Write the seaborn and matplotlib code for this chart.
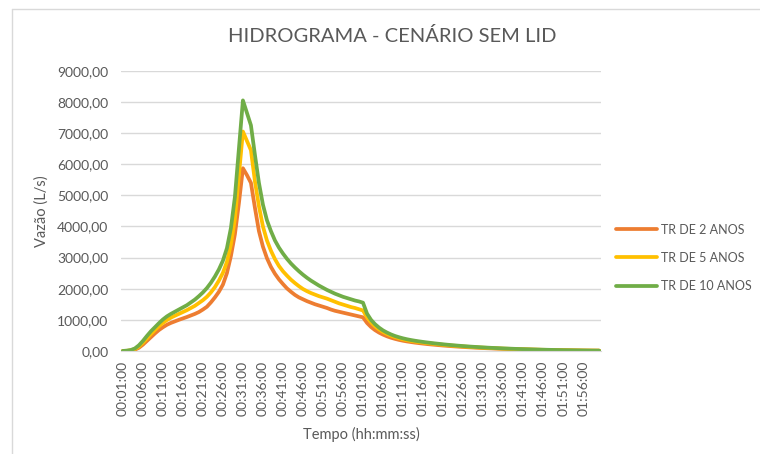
import numpy as np
import pandas as pd
import matplotlib
matplotlib.use("Agg")
import matplotlib.pyplot as plt
import seaborn as sns
from matplotlib.lines import Line2D
from matplotlib.ticker import FuncFormatter

# data - flow (L/s) every minute, 00:01:00 to 02:00:00

tempo = ["%02d:%02d:00" % (m // 60, m % 60) for m in range(1, 121)]

tr_2 = [0, 0, 10, 40, 100, 200, 320, 440, 560, 670,
        760, 840, 900, 950, 1000, 1045, 1090, 1140, 1190, 1250,
        1330, 1420, 1560, 1720, 1900, 2130, 2500, 3050, 3750, 4750,
        5870, 5650, 5400, 4600, 3850, 3350, 2980, 2700, 2480, 2300,
        2150, 2010, 1900, 1800, 1720, 1660, 1600, 1550, 1500, 1460,
        1420, 1380, 1330, 1290, 1260, 1230, 1200, 1170, 1140, 1110,
        1080, 900, 770, 670, 590, 525, 470, 425, 388, 355,
        328, 305, 285, 267, 251, 236, 222, 209, 197, 185,
        174, 164, 154, 145, 136, 128, 120, 113, 106, 99,
        93, 87, 82, 77, 72, 67, 63, 59, 55, 51,
        48, 45, 42, 39, 36, 33, 31, 29, 27, 25,
        23, 21, 19, 17, 15, 13, 12, 11, 10, 9]

tr_5 = [0, 5, 20, 60, 140, 260, 400, 540, 670, 790,
        900, 990, 1070, 1130, 1190, 1250, 1310, 1380, 1450, 1540,
        1630, 1740, 1880, 2050, 2260, 2510, 2860, 3420, 4250, 5650,
        7050, 6750, 6450, 5450, 4650, 4000, 3550, 3220, 2950, 2730,
        2560, 2420, 2290, 2180, 2080, 1990, 1920, 1860, 1810, 1760,
        1720, 1680, 1630, 1580, 1530, 1490, 1450, 1410, 1380, 1340,
        1300, 1080, 920, 790, 690, 610, 545, 490, 445, 405,
        372, 345, 322, 302, 284, 267, 252, 238, 224, 211,
        198, 186, 175, 165, 155, 145, 136, 128, 120, 113,
        106, 99, 93, 87, 81, 76, 71, 66, 62, 58,
        54, 50, 46, 43, 40, 37, 34, 31, 28, 25,
        23, 21, 19, 17, 15, 13, 12, 11, 10, 9]

tr_10 = [0, 10, 30, 80, 180, 320, 480, 630, 760, 890,
         1010, 1110, 1190, 1260, 1330, 1400, 1470, 1560, 1650, 1760,
         1880, 2020, 2190, 2390, 2620, 2900, 3300, 3950, 4950, 6500,
         8050, 7650, 7250, 6300, 5400, 4700, 4200, 3850, 3550, 3320,
         3130, 2960, 2810, 2680, 2560, 2450, 2350, 2260, 2180, 2100,
         2030, 1960, 1900, 1840, 1790, 1740, 1700, 1660, 1620, 1590,
         1550, 1200, 1000, 860, 750, 660, 590, 530, 480, 440,
         405, 375, 350, 328, 308, 290, 273, 257, 242, 228,
         214, 201, 189, 178, 167, 157, 147, 138, 130, 122,
         114, 107, 100, 94, 88, 82, 77, 72, 67, 62,
         58, 54, 50, 46, 43, 40, 37, 34, 31, 28,
         25, 23, 21, 19, 17, 15, 13, 11, 10, 9]

series_names = ["TR DE 2 ANOS", "TR DE 5 ANOS", "TR DE 10 ANOS"]
colors = ["#ED7D31", "#FFC000", "#70AD47"]

df = pd.DataFrame({"tempo": tempo,
                   series_names[0]: tr_2,
                   series_names[1]: tr_5,
                   series_names[2]: tr_10})
df["idx"] = range(len(df))
long_df = df.melt(id_vars=["tempo", "idx"], var_name="serie", value_name="vazao")

sns.set_style("white")
plt.rcParams["font.family"] = ["Lato", "DejaVu Sans"]

fig = plt.figure(figsize=(7.6, 4.54), dpi=100)
ax = fig.add_axes([0.159, 0.227, 0.632, 0.617])

sns.lineplot(data=long_df, x="idx", y="vazao", hue="serie",
             hue_order=series_names, palette=colors, linewidth=2.7,
             ax=ax, legend=False)

ax.set_xlim(-0.5, len(tempo) - 0.5)
ax.set_ylim(0, 9000)
ax.set_yticks(np.arange(0, 9001, 1000))
ax.yaxis.set_major_formatter(FuncFormatter(lambda v, p: ("%.2f" % v).replace(".", ",")))
ax.set_xticks(range(0, len(tempo), 5))
ax.set_xticklabels(tempo[::5], rotation=90)

ax.grid(axis="y", color="#D9D9D9", linewidth=1)
ax.set_axisbelow(True)
for s in ["top", "right", "left"]:
    ax.spines[s].set_visible(False)
ax.spines["bottom"].set_color("#D9D9D9")
ax.tick_params(axis="y", length=0, labelsize=10, labelcolor="#595959", pad=9)
ax.tick_params(axis="x", length=0, labelsize=10, labelcolor="#595959", pad=7)

ax.set_xlabel("Tempo (hh:mm:ss)", fontsize=10.5, color="#595959", labelpad=8)
ax.set_ylabel("Vazão (L/s)", fontsize=10.5, color="#595959", labelpad=6)
fig.text(0.516, 0.921, "HIDROGRAMA - CENÁRIO SEM LID", ha="center", va="center",
         fontsize=14.5, color="#595959")

handles = [Line2D([0], [0], color=c, linewidth=2.7) for c in colors]
fig.legend(handles, series_names, loc="center left", bbox_to_anchor=(0.796, 0.432),
           frameon=False, fontsize=9, labelcolor="#595959", handlelength=3.3,
           handletextpad=0.3, labelspacing=1.3)

# chart border (only top and left edges visible in the picture)
fig.add_artist(Line2D([12 / 760, 12 / 760], [0, 1 - 9 / 454], color="#D9D9D9", linewidth=1))
fig.add_artist(Line2D([12 / 760, 1], [1 - 9 / 454, 1 - 9 / 454], color="#D9D9D9", linewidth=1))

fig.savefig("out.png", dpi=100)
